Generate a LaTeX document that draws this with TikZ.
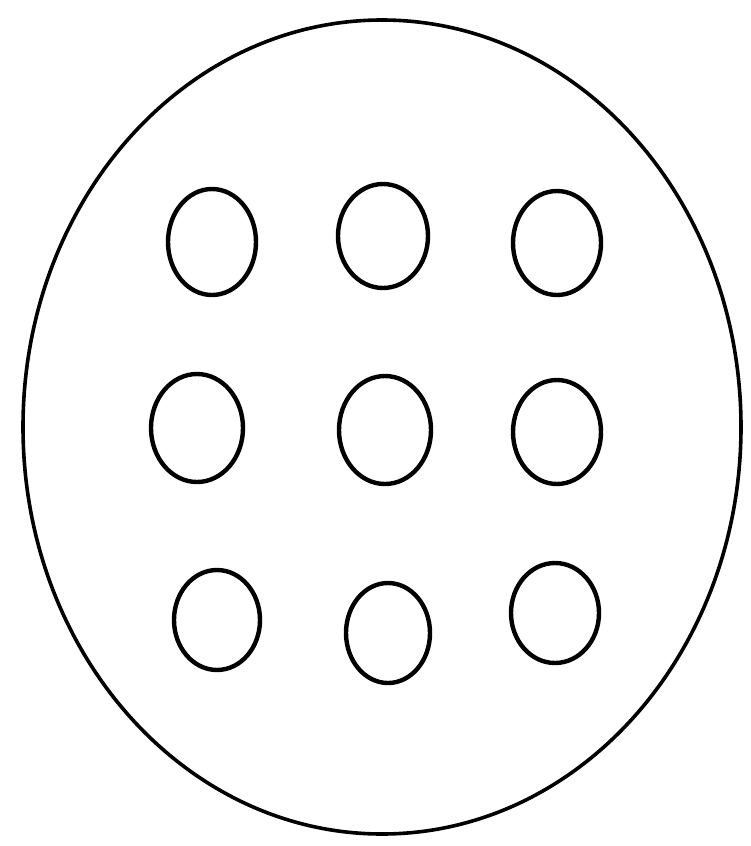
\documentclass[tikz,border=0pt]{standalone}
\begin{document}
\begin{tikzpicture}[x=1pt,y=-1pt,
  outline/.style={line width=3.6pt,draw=black},
  hole/.style={line width=4.4pt,draw=black}]
\useasboundingbox[fill=white] (0,0) rectangle (750,846);
\draw[outline] (382,427) ellipse [x radius=359, y radius=407];
% row 1
\draw[hole] (212,242) ellipse [x radius=44, y radius=53];
\draw[hole] (383,236) ellipse [x radius=45, y radius=52];
\draw[hole] (557,243) ellipse [x radius=44, y radius=52];
% row 2
\draw[hole] (197,428) ellipse [x radius=46, y radius=54];
\draw[hole] (385,430) ellipse [x radius=46, y radius=54];
\draw[hole] (557,432) ellipse [x radius=44, y radius=52];
% row 3
\draw[hole] (217,620) ellipse [x radius=43, y radius=50];
\draw[hole] (388,633) ellipse [x radius=42, y radius=50];
\draw[hole] (555,613) ellipse [x radius=44, y radius=50];
\end{tikzpicture}
\end{document}
